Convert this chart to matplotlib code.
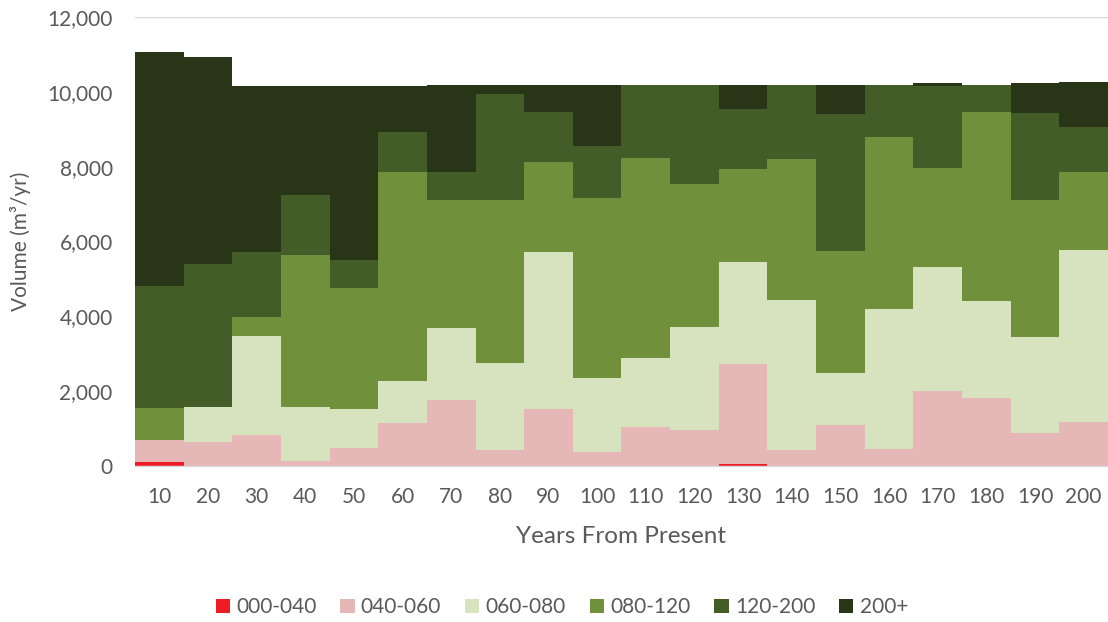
import matplotlib
matplotlib.use("Agg")
import matplotlib.pyplot as plt
import numpy as np
from matplotlib.ticker import FuncFormatter, MultipleLocator

# Harvest volume by age class, per 10-year period
years = ["10", "20", "30", "40", "50", "60", "70", "80", "90", "100",
         "110", "120", "130", "140", "150", "160", "170", "180", "190", "200"]

age_000_040 = [100, 0, 0, 0, 0, 0, 0, 0, 0, 0,
               0, 0, 50, 0, 0, 0, 0, 0, 0, 0]
age_040_060 = [590, 650, 830, 134, 490, 1141, 1756, 428, 1524, 383,
               1042, 970, 2668, 428, 1105, 454, 2005, 1826, 873, 1176]
age_060_080 = [0, 935, 2640, 1450, 1034, 1131, 1924, 2333, 4204, 1961,
               1845, 2737, 2743, 4009, 1373, 3743, 3322, 2576, 2567, 4588]
age_080_120 = [870, 0, 520, 4047, 3226, 5587, 3430, 4349, 2398, 4828,
               5346, 3822, 2469, 3761, 3269, 4589, 2639, 5069, 3670, 2095]
age_120_200 = [3250, 3806, 1740, 1612, 748, 1061, 749, 2834, 1345, 1382,
               1960, 2664, 1621, 1995, 3662, 1407, 2191, 722, 2326, 1203]
age_200_plus = [6260, 5550, 4430, 2913, 4659, 1237, 2334, 249, 722, 1639,
                0, 0, 642, 0, 784, 0, 72, 0, 793, 1203]

series = [
    ("000-040", age_000_040, "#ee1c25"),
    ("040-060", age_040_060, "#e5b7b6"),
    ("060-080", age_060_080, "#d6e3be"),
    ("080-120", age_080_120, "#71903b"),
    ("120-200", age_120_200, "#445c28"),
    ("200+", age_200_plus, "#283517"),
]

plt.rcParams["font.family"] = ["Lato", "DejaVu Sans"]
text_color = "#595959"

fig = plt.figure(figsize=(11.08, 6.22), dpi=100)
ax = fig.add_axes([0.1218, 0.2508, 0.8782, 0.7219])

x = np.arange(len(years))
bottom = np.zeros(len(years))
for name, vals, color in series:
    vals = np.asarray(vals, dtype=float)
    ax.bar(x, vals, width=1.0, bottom=bottom, color=color, label=name,
           linewidth=0, zorder=2)
    bottom += vals

ax.set_xlim(-0.5, len(years) - 0.5)
ax.set_ylim(0, 12000)
ax.yaxis.set_major_locator(MultipleLocator(2000))
ax.yaxis.set_major_formatter(FuncFormatter(lambda v, p: f"{int(v):,}"))
ax.set_xticks(x)
ax.set_xticklabels(years)

ax.grid(axis="y", color="#d9d9d9", linewidth=1.0, zorder=0)
for side in ("top", "right", "left"):
    ax.spines[side].set_visible(False)
ax.spines["bottom"].set_color("#d9d9d9")
ax.spines["bottom"].set_linewidth(1.0)

ax.tick_params(axis="both", length=0, labelsize=15, colors=text_color)
ax.tick_params(axis="x", pad=15)
ax.tick_params(axis="y", pad=16)

ax.set_xlabel("Years From Present", fontsize=17.5, color=text_color, labelpad=14)
ax.set_ylabel("Volume (m³/yr)", fontsize=15, color=text_color, labelpad=12)

fig.legend(loc="center", bbox_to_anchor=(0.507, 0.024), ncol=6, frameon=False,
           fontsize=15, labelcolor=text_color, handlelength=0.68,
           handleheight=0.68, handletextpad=0.3, columnspacing=1.15)

fig.savefig("out.png", dpi=100)
